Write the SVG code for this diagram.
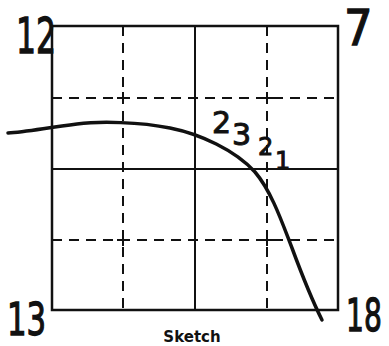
<svg xmlns="http://www.w3.org/2000/svg" width="389" height="346" viewBox="0 0 389 346">
<style>
.frame{fill:none;stroke:#111;stroke-width:2.5}
.solid{stroke:#111;stroke-width:2;fill:none}
.dash{stroke:#111;stroke-width:2;fill:none;stroke-dasharray:10 7}
.curve{fill:none;stroke:#111;stroke-width:3.5;stroke-linecap:round;stroke-linejoin:round}
.hand{font-family:"DejaVu Sans","Liberation Sans",sans-serif;font-size:50px;fill:#111;stroke:#111;stroke-width:1.3}
.small{font-family:"DejaVu Sans","Liberation Sans",sans-serif;font-size:30px;fill:#111;stroke:#111;stroke-width:1}
.cap{font-family:"DejaVu Sans","Liberation Sans",sans-serif;font-weight:bold;font-size:15px;fill:#111}
</style>
<rect width="389" height="346" fill="#fff"/>
<g id="grid">
<rect class="frame" x="52" y="26" width="286" height="284"/>
<line class="dash" x1="123" y1="26" x2="123" y2="310"/>
<line class="solid" x1="195" y1="26" x2="195" y2="310"/>
<line class="dash" x1="267" y1="26" x2="267" y2="310"/>
<line class="dash" x1="52" y1="98" x2="338" y2="98"/>
<line class="solid" x1="52" y1="169" x2="338" y2="169"/>
<line class="dash" x1="52" y1="240" x2="338" y2="240"/>
<path class="solid" d="M117,98h12M123,92v12M261,98h12M267,92v12M117,240h12M123,234v12M261,240h12M267,234v12"/>
</g>
<g id="connectors">
<path class="curve" d="M8,133 C25,132 45,128 77,124 C100,121 140,122 170,128 C200,134 235,150 255,172 C272,192 283,225 292,248 C302,275 312,300 322,320"/>
</g>
<g id="label-12"><text class="hand" transform="translate(16,53) scale(0.63,1)">12</text></g>
<g id="label-7"><text class="hand" transform="translate(344,45) scale(0.9,1)">7</text></g>
<g id="label-13"><text class="hand" style="font-size:44px" transform="translate(7,335) scale(0.7,1)">13</text></g>
<g id="label-18"><text class="hand" style="font-size:44px" transform="translate(346,331) scale(0.64,1)">18</text></g>
<g id="label-23"><text class="small" x="212 232" y="133 145">23</text></g>
<g id="label-21"><text class="small" x="258 275" y="155 169" style="font-size:24px">21</text></g>
<g id="caption"><text class="cap" x="192" y="342" text-anchor="middle">Sketch</text></g>
</svg>
